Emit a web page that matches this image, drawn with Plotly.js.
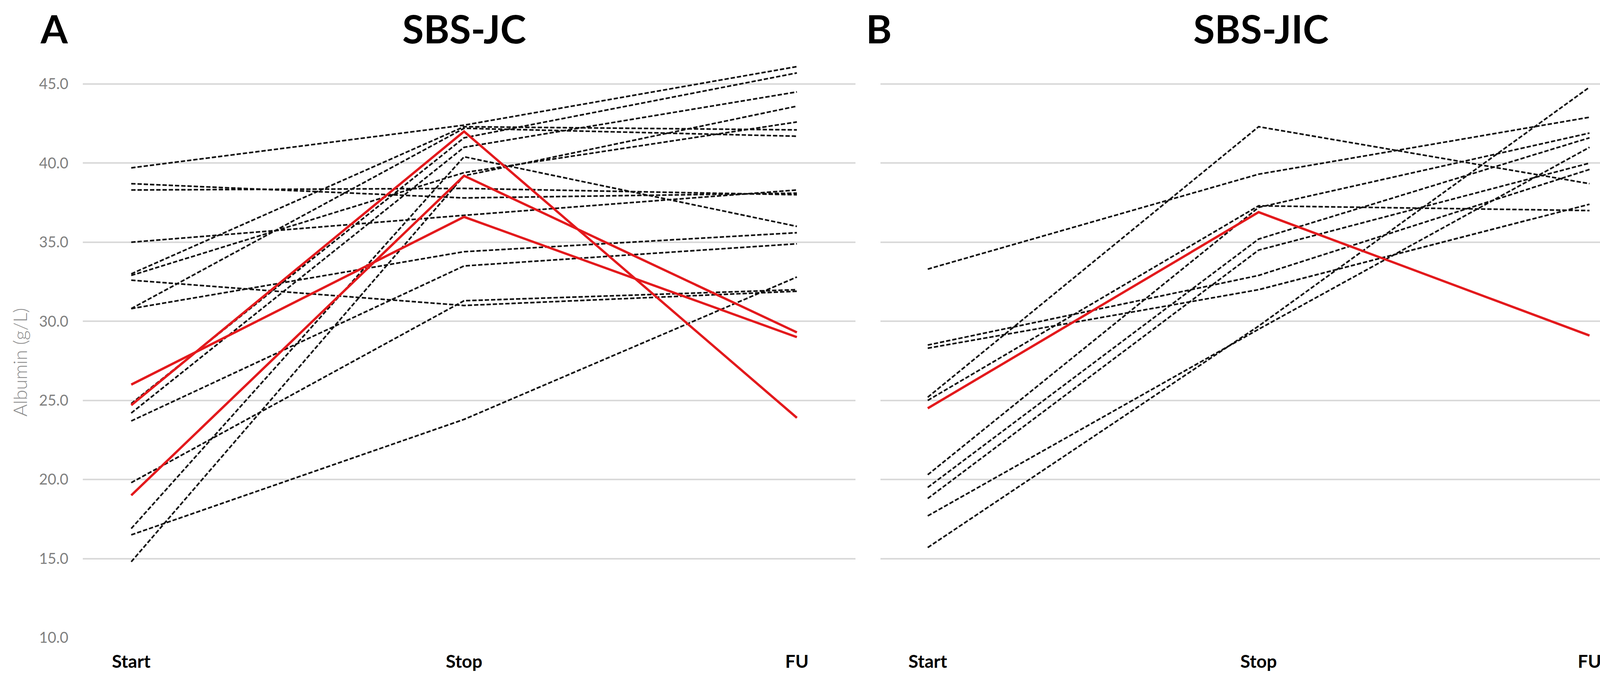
<!DOCTYPE html>
<html>
<head>
<meta charset="utf-8">
<script src="https://cdn.plot.ly/plotly-3.0.1.min.js"></script>
<style>
  html, body { margin: 0; padding: 0; background: #ffffff; }
  #chart { width: 4251px; height: 1753px; }
</style>
</head>
<body>
<div id="chart"></div>
<script>
// ---- data ----
const categories = ['Start', 'Stop', 'FU'];
const yTickValues = [10, 15, 20, 25, 30, 35, 40, 45];

// Panel A: SBS-JC (albumin g/L at Start, Stop, FU)
const jcDashed = [
  [39.7, 42.4, 46.1],
  [38.7, 37.8, 38.1],
  [38.3, 38.4, 38.0],
  [35.0, 36.7, 38.3],
  [33.0, 42.3, 42.1],
  [32.9, 39.4, 42.6],
  [32.6, 31.0, 31.9],
  [30.8, 34.4, 35.6],
  [30.8, 42.2, 41.7],
  [24.8, 41.6, 45.7],
  [24.2, 41.0, 44.5],
  [23.7, 33.5, 34.9],
  [19.8, 31.3, 32.0],
  [16.9, 40.4, 36.0],
  [16.5, 23.8, 32.8],
  [14.8, 39.2, 43.6]
];
const jcRed = [
  [26.0, 36.6, 29.0],
  [24.7, 42.0, 23.9],
  [19.0, 39.2, 29.3]
];

// Panel B: SBS-JIC
const jicDashed = [
  [33.3, 39.3, 42.9],
  [28.5, 32.9, 39.6],
  [28.3, 32.0, 37.4],
  [25.2, 42.3, 38.7],
  [25.0, 37.3, 37.0],
  [20.3, 37.2, 41.9],
  [19.5, 35.2, 41.6],
  [18.8, 34.5, 40.0],
  [17.7, 29.5, 41.0],
  [15.7, 29.7, 44.8]
];
const jicRed = [
  [24.5, 36.9, 29.1]
];

const panelLetters = ['A', 'B'];
const panelTitles = ['SBS-JC', 'SBS-JIC'];
const yAxisTitle = 'Albumin (g/L)';

// ---- styles ----
const W = 4251, H = 1753;
const dashedStyle = { color: '#111111', width: 4.2, dash: '11px,5px' };
const redStyle = { color: '#e3191c', width: 6 };

const traces = [];
function addSeries(list, style, xa, ya) {
  list.forEach(vals => {
    traces.push({
      type: 'scatter', mode: 'lines',
      x: categories, y: vals,
      xaxis: xa, yaxis: ya,
      line: style, hoverinfo: 'skip'
    });
  });
}
addSeries(jcDashed, dashedStyle, 'x', 'y');
addSeries(jcRed, redStyle, 'x', 'y');
addSeries(jicDashed, dashedStyle, 'x2', 'y2');
addSeries(jicRed, redStyle, 'x2', 'y2');

const yDomain = [1 - 1632 / H, 1 - 134 / H];
const xTickFont = { family: 'Lato', size: 46, color: '#000000', weight: 700 };

const common_x = {
  type: 'category', showgrid: false, zeroline: false, showline: false,
  ticks: '', tickfont: xTickFont, ticklabelstandoff: 30, fixedrange: true
};
const common_y = {
  range: [10, 47], tickvals: yTickValues, tickformat: '.1f',
  showgrid: true, gridcolor: '#d9d9d9', gridwidth: 4,
  zeroline: false, showline: false, ticks: '', domain: yDomain
};

const titleFont = { family: 'Lato', size: 100, color: '#000000', weight: 700 };

const layout = {
  width: W, height: H,
  margin: { l: 0, r: 0, t: 0, b: 0, pad: 0 },
  paper_bgcolor: '#ffffff', plot_bgcolor: '#ffffff',
  showlegend: false,
  xaxis: Object.assign({}, common_x, {
    domain: [212 / W, 2190 / W], range: [-0.1455, 2.176], anchor: 'y'
  }),
  yaxis: Object.assign({}, common_y, {
    anchor: 'x',
    tickfont: { family: 'Lato', size: 38, color: '#7f7f7f' },
    ticklabelstandoff: 36
  }),
  xaxis2: Object.assign({}, common_x, {
    domain: [2254 / W, 4225 / W], range: [-0.1429, 2.184], anchor: 'y2'
  }),
  yaxis2: Object.assign({}, common_y, {
    anchor: 'x2', showticklabels: false
  }),
  annotations: [
    { text: panelLetters[0], xref: 'paper', yref: 'paper', x: 138 / W, y: 1 - 72 / H,
      xanchor: 'center', yanchor: 'middle', showarrow: false, font: titleFont },
    { text: panelTitles[0], xref: 'paper', yref: 'paper', x: 1188 / W, y: 1 - 72 / H,
      xanchor: 'center', yanchor: 'middle', showarrow: false, font: titleFont },
    { text: panelLetters[1], xref: 'paper', yref: 'paper', x: 2250 / W, y: 1 - 72 / H,
      xanchor: 'center', yanchor: 'middle', showarrow: false, font: titleFont },
    { text: panelTitles[1], xref: 'paper', yref: 'paper', x: 3228 / W, y: 1 - 72 / H,
      xanchor: 'center', yanchor: 'middle', showarrow: false, font: titleFont },
    { text: yAxisTitle, xref: 'paper', yref: 'paper', x: 50 / W, y: 1 - 927 / H,
      xanchor: 'center', yanchor: 'middle', textangle: -90, showarrow: false,
      font: { family: 'Lato', size: 48, color: '#8c8c8c', weight: 300 } }
  ]
};

Plotly.newPlot('chart', traces, layout, { staticPlot: true, displayModeBar: false });
</script>
</body>
</html>
